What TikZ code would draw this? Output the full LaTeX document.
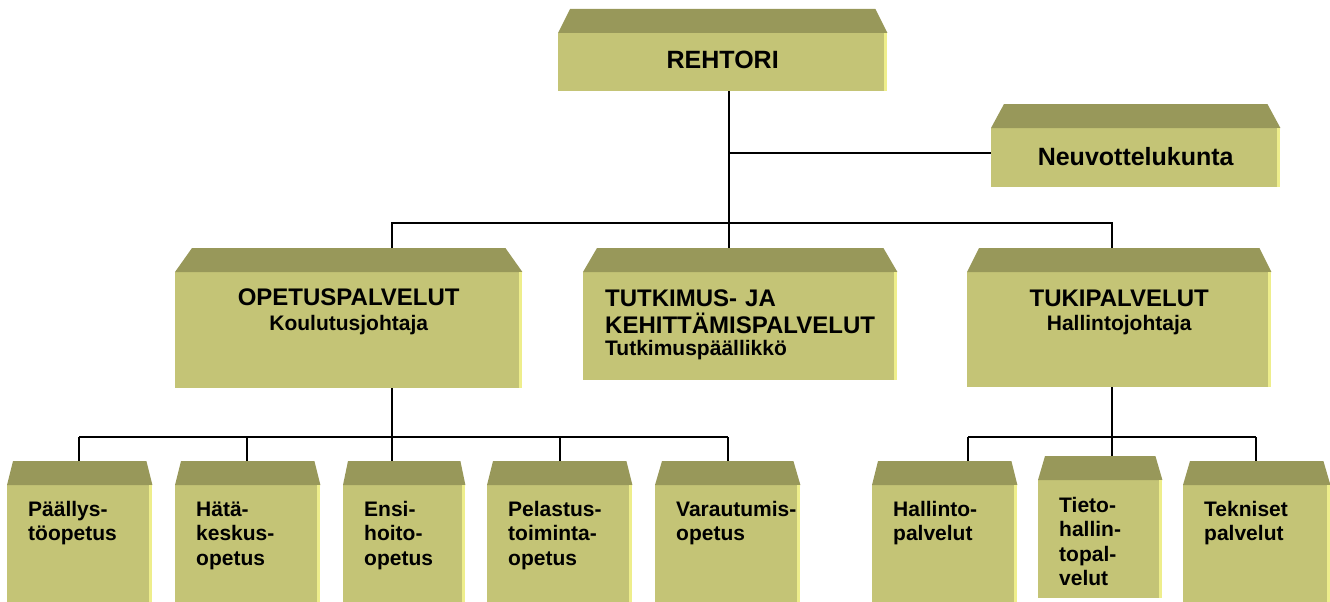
\documentclass[tikz,border=0pt]{standalone}
\usepackage{fontspec}
\setmainfont{Liberation Sans}
\usetikzlibrary{positioning}
\hyphenpenalty=10000
\exhyphenpenalty=10000
\definecolor{boxfront}{RGB}{196,196,118}
\definecolor{boxtop}{RGB}{152,152,90}
\definecolor{boxedge}{RGB}{238,238,140}
\newcommand\bigfont{\fontsize{25}{28}\selectfont\bfseries}
\newcommand\headfont{\fontsize{24}{27}\selectfont\bfseries}
\newcommand\subfont{\fontsize{21}{24}\selectfont}
\newcommand\lowfont{\fontsize{21}{24.5}\selectfont\bfseries}
\tikzset{box/.style={fill=boxfront,anchor=north west,inner xsep=0pt,inner ysep=0pt,font=\headfont}}
\tikzset{low/.style={box,inner xsep=21pt,align=left,font=\lowfont,text height=31pt}}
\tikzset{wire/.style={line width=1.6pt}}

\begin{document}
\begin{tikzpicture}[x=1pt,y=-1pt]
    \useasboundingbox (0,0) rectangle (1330,602);

    \node (reh) [box,font=\bigfont,text width=329pt,align=center,text height=35pt,text depth=23pt] at (558,33) {REHTORI};
    \node (neuv) [box,font=\bigfont,text width=289pt,align=center,text height=37pt,text depth=22pt] at (991,128) {Neuvottelukunta};

    \node (opet) [box,text width=347pt,align=center,text height=33pt,text depth=83pt] at (175,272) {OPETUSPALVELUT\\[-2pt]{\subfont Koulutusjohtaja}};
    \node (tutk) [box,inner xsep=22pt,text width=270pt,align=left,text height=34pt,text depth=74pt] at (583,272) {TUTKIMUS- JA\\KEHITTÄMISPALVELUT\\[-5pt]{\subfont Tutkimuspäällikkö}};
    \node (tuki) [box,text width=304pt,align=center,text height=34pt,text depth=81pt] at (967,272) {TUKIPALVELUT\\[-3pt]{\subfont Hallintojohtaja}};

    \node (paal) [low,text width=103pt,text depth=86pt] at (7,485) {Päällys-\\töopetus};
    \node (hata) [low,text width=103pt,text depth=86pt] at (175,485) {Hätä-\\keskus-\\opetus};
    \node (ensi) [low,text width=80pt,text depth=86pt] at (343,485) {Ensi-\\hoito-\\opetus};
    \node (pela) [low,text width=103pt,text depth=86pt] at (487,485) {Pelastus-\\toiminta-\\opetus};
    \node (vara) [low,text width=103pt,text depth=86pt] at (655,485) {Varautumis-\\opetus};
    \node (hall) [low,text width=103pt,text depth=86pt] at (872,485) {Hallinto-\\palvelut};
    \node (tiet) [low,text width=82pt,text height=32pt,text depth=86pt] at (1038,480) {Tieto-\\hallin-\\topal-\\velut};
    \node (tekn) [low,text width=105pt,text depth=86pt] at (1183,485) {Tekniset\\palvelut};

    \def\bevel{
    \fill [boxtop] (\bx.north west) -- ([xshift=\ins,yshift=24pt]\bx.north west) -- ([xshift=-\ins,yshift=24pt]\bx.north east) -- (\bx.north east) -- cycle;
    \fill [boxedge] ([xshift=-3pt]\bx.north east) rectangle (\bx.south east);
    \coordinate (\bx-top) at ([yshift=24pt]\bx.north);
    }
    \foreach \bx/\ins in {reh/12pt,neuv/13pt,opet/17pt,tutk/14pt,tuki/12pt,paal/6pt,hata/6pt,ensi/5pt,pela/6pt,vara/7pt,hall/6pt,tiet/7pt,tekn/7pt} {\bevel}

    \coordinate (hub) at (729,223);
    \coordinate (opj) at (392,223);
    \coordinate (tuj) at (1112,223);
    \draw [wire] (reh.south -| hub) -- (tutk-top -| hub);
    \draw [wire] ([yshift=5pt]neuv.west -| hub) -- ([yshift=5pt]neuv.west);
    \draw [wire] (opet-top -| opj) -- (opj) -- (tuj) -- (tuki-top -| tuj);

    \coordinate (opb) at (392,437);
    \coordinate (tub) at (1112,437);
    \draw [wire] (opet.south -| opb) -- (opb);
    \draw [wire] (tuki.south -| tub) -- (tub);
    \draw [wire] (opb -| 79,0) -- (opb -| 728,0);
    \draw [wire] (tub -| 968,0) -- (tub -| 1256,0);
    \foreach \bx/\x in {paal/79,hata/247,ensi/392,pela/560,vara/728,hall/968,tiet/1112,tekn/1256}
        \draw [wire] (opb -| \x,0) -- (\bx-top -| \x,0);
\end{tikzpicture}
\end{document}
